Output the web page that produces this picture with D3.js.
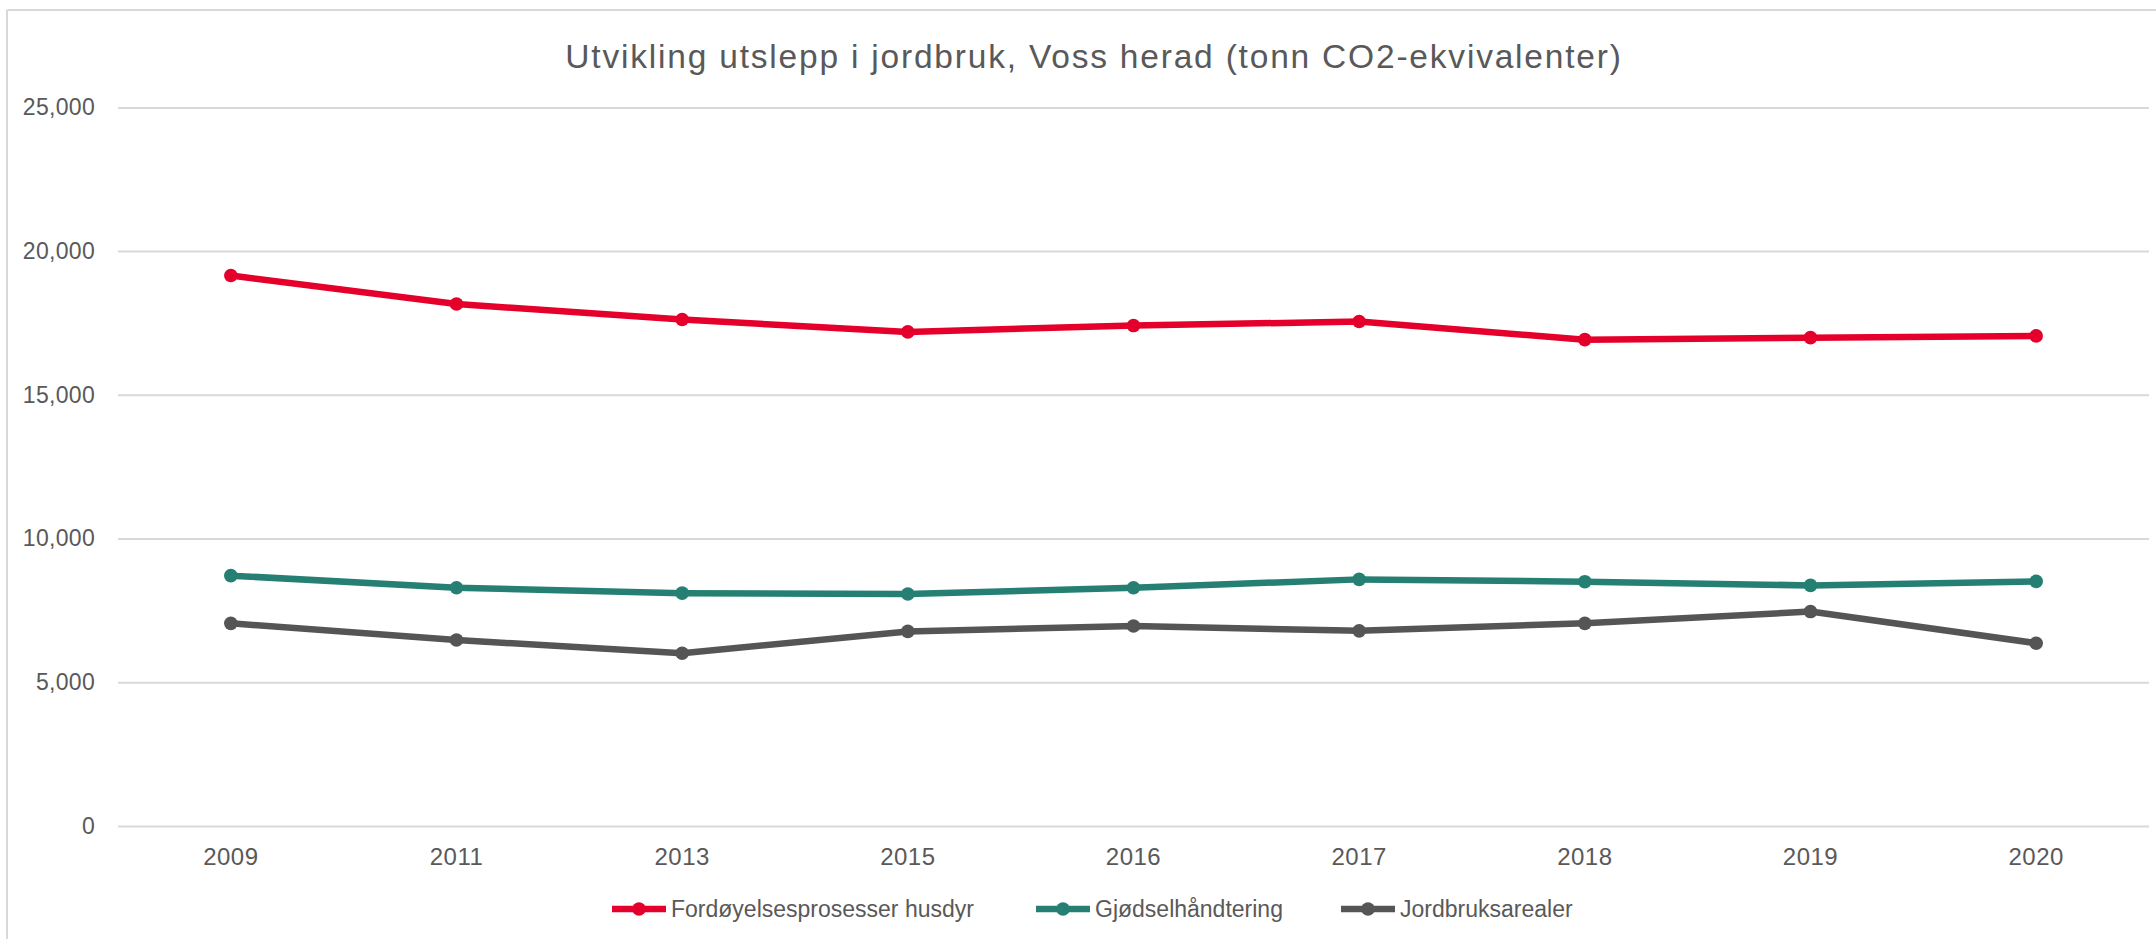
<!DOCTYPE html>
<html>
<head>
<meta charset="utf-8">
<script src="https://cdn.jsdelivr.net/npm/d3@7"></script>
<style>
  html, body { margin: 0; padding: 0; background: #fff; }
  svg { display: block; }
  text { font-family: "Liberation Sans", Arial, sans-serif; fill: #595959; }
</style>
</head>
<body>
<svg id="chart" width="2156" height="939"></svg>
<script>
const years = ["2009", "2011", "2013", "2015", "2016", "2017", "2018", "2019", "2020"];
const fordoyelse = [19150, 18160, 17620, 17190, 17410, 17550, 16920, 16990, 17050];
const gjodsel = [8710, 8290, 8100, 8070, 8290, 8580, 8500, 8370, 8510];
const jordbruk = [7050, 6470, 6010, 6770, 6960, 6790, 7050, 7460, 6360];
const seriesNames = ["Fordøyelsesprosesser husdyr", "Gjødselhåndtering", "Jordbruksarealer"];
const seriesColors = ["#E4002B", "#267F73", "#555555"];
const yTicks = [0, 5000, 10000, 15000, 20000, 25000];
const title = "Utvikling utslepp i jordbruk, Voss herad (tonn CO2-ekvivalenter)";

const series = [fordoyelse, gjodsel, jordbruk].map((vals, i) => ({
  name: seriesNames[i], color: seriesColors[i],
  values: vals.map((v, j) => ({ year: years[j], value: v }))
}));

const svg = d3.select("#chart");
const W = 2156, H = 939;
const plot = { left: 118, right: 2149, top: 107.4, bottom: 826 };

// chart border (top and left visible)
svg.append("line").attr("x1", 7).attr("x2", W).attr("y1", 10).attr("y2", 10)
  .attr("stroke", "#d9d9d9").attr("stroke-width", 2);
svg.append("line").attr("x1", 7).attr("x2", 7).attr("y1", 10).attr("y2", H)
  .attr("stroke", "#d9d9d9").attr("stroke-width", 2);

const x = d3.scaleBand().domain(years).range([plot.left, plot.right]).paddingInner(0).paddingOuter(0);
const y = d3.scaleLinear().domain([0, 25000]).range([plot.bottom, plot.top]);
const xc = d => x(d) + x.bandwidth() / 2;

// gridlines
const yAxis = d3.axisLeft(y).tickValues(yTicks).tickSize(-(plot.right - plot.left)).tickPadding(23)
  .tickFormat(d3.format(","));
const gy = svg.append("g").attr("transform", `translate(${plot.left},0)`).call(yAxis);
gy.select(".domain").remove();
gy.selectAll(".tick line").attr("stroke", "#d9d9d9").attr("stroke-width", 2);
gy.selectAll(".tick text").attr("font-size", 23).attr("fill", "#595959")
  .attr("letter-spacing", 0.3)
  .attr("font-family", "Liberation Sans, Arial, sans-serif");

const xAxis = d3.axisBottom(x).tickSize(0).tickPadding(22);
const gx = svg.append("g").attr("transform", `translate(0,${plot.bottom})`).call(xAxis);
gx.select(".domain").remove();
gx.selectAll(".tick text").attr("font-size", 24).attr("fill", "#595959")
  .attr("letter-spacing", 0.5)
  .attr("font-family", "Liberation Sans, Arial, sans-serif");

// title
svg.append("text").attr("x", 1094).attr("y", 68).attr("text-anchor", "middle")
  .attr("font-size", 33.5).attr("letter-spacing", 1.8).text(title);

// lines
const line = d3.line().x(d => xc(d.year)).y(d => y(d.value));
const gs = svg.append("g").selectAll("g").data(series).join("g");
gs.append("path").attr("d", d => line(d.values)).attr("fill", "none")
  .attr("stroke", d => d.color).attr("stroke-width", 6.5).attr("stroke-linejoin", "round");
gs.selectAll("circle").data(d => d.values.map(v => ({ ...v, color: d.color }))).join("circle")
  .attr("cx", d => xc(d.year)).attr("cy", d => y(d.value)).attr("r", 6.8).attr("fill", d => d.color);

// legend
const legendX = [612, 1036, 1341];
const lg = svg.append("g").selectAll("g").data(series).join("g")
  .attr("transform", (d, i) => `translate(${legendX[i]},909)`);
lg.append("line").attr("x1", 0).attr("x2", 54).attr("y1", 0).attr("y2", 0)
  .attr("stroke", d => d.color).attr("stroke-width", 6.5);
lg.append("circle").attr("cx", 27).attr("cy", 0).attr("r", 6.8).attr("fill", d => d.color);
lg.append("text").attr("x", 59).attr("y", 0).attr("dy", "0.35em").attr("font-size", 23)
  .text(d => d.name);
</script>
</body>
</html>
